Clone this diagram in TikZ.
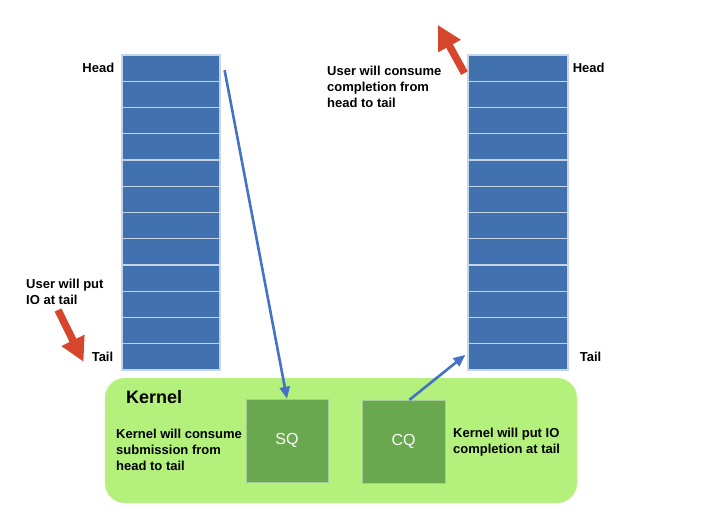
\documentclass[tikz,border=0pt]{standalone}
\usepackage{fontspec}
\setmainfont{Liberation Sans}
\usetikzlibrary{positioning,arrows.meta}
\usepackage{xcolor}
\definecolor{cellblue}{RGB}{66,113,176}
\definecolor{linkblue}{RGB}{68,114,196}
\definecolor{kernelgreen}{RGB}{180,240,124}
\definecolor{ringgreen}{RGB}{106,168,79}
\definecolor{pushred}{RGB}{214,70,45}
\tikzset{
  cell/.style={draw=white!70!cellblue,fill=cellblue,line width=1.2pt,
    minimum width=98pt,minimum height=26.25pt,inner sep=0pt},
  lbl/.style={font=\fontsize{13}{15.8}\selectfont\bfseries,align=left,inner sep=0pt},
  ringbox/.style={draw=ringgreen!60!white,fill=ringgreen,inner sep=0pt,
    minimum width=82pt,minimum height=83pt,text=white,font=\fontsize{16}{18}\selectfont},
  link/.style={-{Triangle[length=12pt,width=10pt]},linkblue,line width=2.6pt},
  push/.style={-{Triangle[length=24pt,width=24pt]},pushred,line width=7.5pt}
}

\begin{document}
\begin{tikzpicture}[x=1pt,y=-1pt]
\useasboundingbox (0,0) rectangle (709,532);
% kernel area
\node[draw=kernelgreen!70!white,fill=kernelgreen,rounded corners=20pt,
  minimum width=472pt,minimum height=125pt] (kernel) at (341,440.5) {};
\node[font=\fontsize{18}{20}\selectfont\bfseries,anchor=west,inner sep=0pt] (kname) at (126,397) {Kernel};
% the two rings
\node[ringbox] (sq) at (287,440.5) {SQ};
\node[ringbox,minimum width=83pt] (cq) at (403.5,441.5) {CQ};
% queue slots
\foreach \i in {1,...,12} {
  \node[cell] (lq\i) at (171,{55+26.25*(\i-0.5)}) {};
  \node[cell,minimum width=100pt] (rq\i) at (518,{55+26.25*(\i-0.5)}) {};
}
% head / tail marks
\node[lbl,left=7pt of lq1] (lhead) {Head};
\node[lbl,left=8pt of lq12] (ltail) {Tail};
\node[lbl,right=4pt of rq1] (rhead) {Head};
\node[lbl,right=11pt of rq12] (rtail) {Tail};
% notes
\node[lbl,anchor=west] (lnote) at (26,291.5) {User will put\\IO at tail};
\node[lbl,anchor=west] (rnote) at (327,87) {User will consume\\completion from\\head to tail};
\node[lbl,anchor=west] (snote) at (116,450) {Kernel will consume\\submission from\\head to tail};
\node[lbl,anchor=west] (cnote) at (453,442) {Kernel will put IO\\completion at tail};
% flows between user and kernel
\draw[link] ([shift={(4,2)}]lq1.east) -- (sq.north);
\draw[link] ([xshift=6pt]cq.north) -- ([shift={(-2,-2)}]rq12.west);
% user side pushes
\coordinate (lpush) at (58,310);
\coordinate (rpush) at (438,25);
\draw[push] (lpush) -- ([shift={(-8,5)}]ltail.west);
\draw[push] ([shift={(-3,5)}]rq1.west) -- (rpush);
\end{tikzpicture}
\end{document}
